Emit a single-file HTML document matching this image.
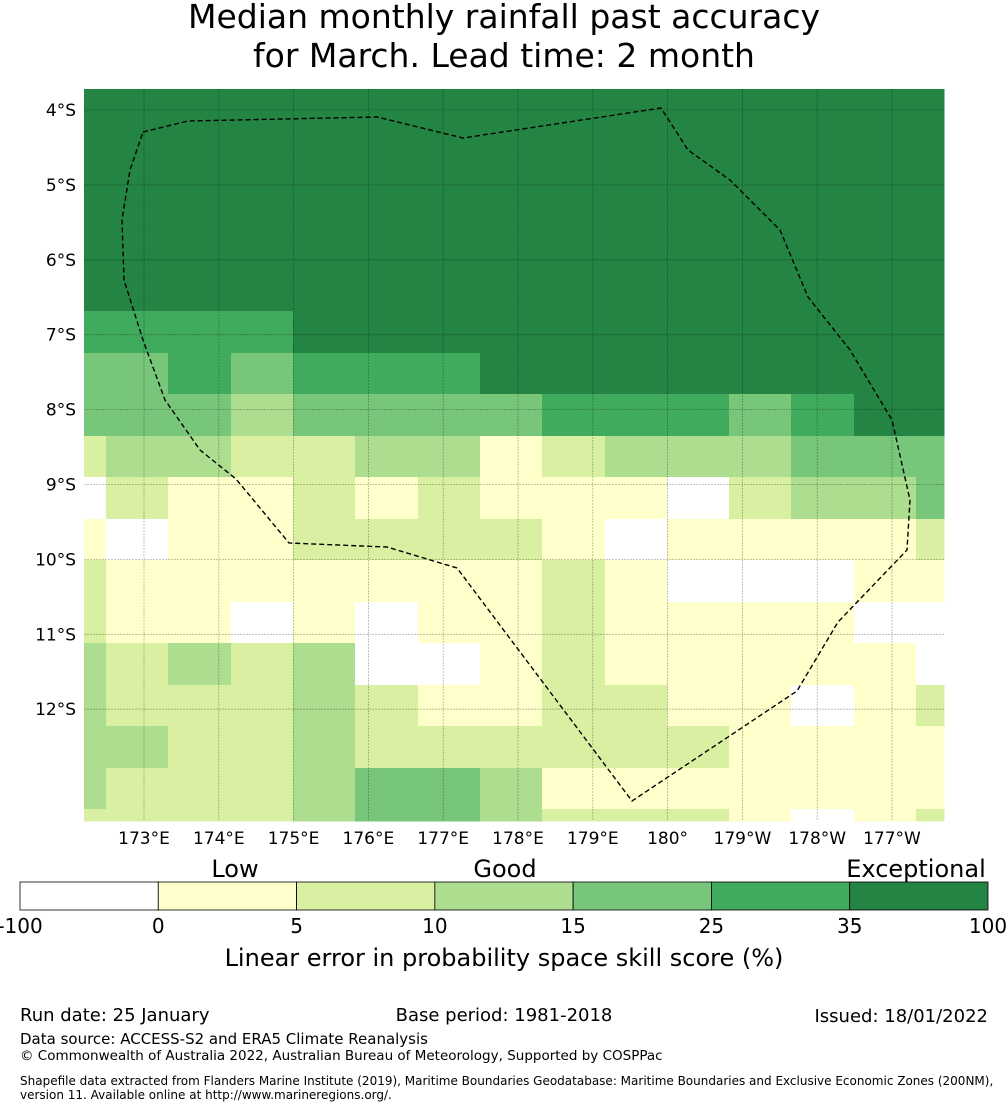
<!DOCTYPE html>
<html><head><meta charset="utf-8"><style>
body{margin:0;background:#fff;width:1008px;height:1110px;overflow:hidden;font-family:"Liberation Sans","DejaVu Sans",sans-serif;}
svg{display:block}
</style></head><body>
<svg id="chart" width="1008" height="1110">
<g>
<text x="504" y="28" font-size="33" text-anchor="middle" font-family="DejaVu Sans, sans-serif">Median monthly rainfall past accuracy</text>
<text x="504" y="67" font-size="33" text-anchor="middle" font-family="DejaVu Sans, sans-serif">for March. Lead time: 2 month</text>
</g>
<g id="cells"></g>
<g id="grid"></g>
<polygon id="eez" fill="none" stroke="#000" stroke-width="1.4" stroke-dasharray="5,3"
points="143,132 188,121 377,117 463,138 661,108 688,150 730,180 780,230 808,297 850,350 892,420 910,500 907,550 838,622 797,691 632,801 457,568 387,547 289,543 236,479 200,450 165,400 143,340 124,280 122,220 130,170 143,132"/>
<g id="ylabels"></g>
<g id="xlabels"></g>
<g id="cbar"></g>
<g font-family="DejaVu Sans, sans-serif" font-size="24">
<text x="235" y="877" text-anchor="middle">Low</text>
<text x="505" y="877" text-anchor="middle">Good</text>
<text x="916" y="877" text-anchor="middle">Exceptional</text>
</g>
<text x="504" y="966" font-size="24" text-anchor="middle" font-family="DejaVu Sans, sans-serif">Linear error in probability space skill score (%)</text>
<g font-family="DejaVu Sans, sans-serif">
<text x="20" y="1021" font-size="18">Run date: 25 January</text>
<text x="504" y="1021" font-size="18" text-anchor="middle">Base period: 1981-2018</text>
<text x="988" y="1022" font-size="18" text-anchor="end">Issued: 18/01/2022</text>
<text x="20" y="1044" font-size="15">Data source: ACCESS-S2 and ERA5 Climate Reanalysis</text>
<text x="20" y="1060" font-size="13.5">© Commonwealth of Australia 2022, Australian Bureau of Meteorology, Supported by COSPPac</text>
<text x="20" y="1085" font-size="12">Shapefile data extracted from Flanders Marine Institute (2019), Maritime Boundaries Geodatabase: Maritime Boundaries and Exclusive Economic Zones (200NM),</text>
<text x="20" y="1099" font-size="12">version 11. Available online at http://www.marineregions.org/.</text>
</g>
</svg>
<script>
const colEdges=[84,106,168,231,293,355,418,480,542,605,667,729,791,854,916,944];
const rowEdges=[89,104,145,187,228,270,311,353,394,436,477,519,560,602,643,685,726,768,809,821];
// skill score per cell (row-major, 15 columns)
const D=50,B=30,G=20,M=12,L=7,Y=3,W=-5;
const skill=[
[D,D,D,D,D,D,D,D,D,D,D,D,D,D,D],
[D,D,D,D,D,D,D,D,D,D,D,D,D,D,D],
[D,D,D,D,D,D,D,D,D,D,D,D,D,D,D],
[D,D,D,D,D,D,D,D,D,D,D,D,D,D,D],
[D,D,D,D,D,D,D,D,D,D,D,D,D,D,D],
[D,D,D,D,D,D,D,D,D,D,D,D,D,D,D],
[B,B,B,B,D,D,D,D,D,D,D,D,D,D,D],
[G,G,B,G,B,B,B,D,D,D,D,D,D,D,D],
[G,G,G,M,G,G,G,G,B,B,B,G,B,D,D],
[L,M,M,L,L,M,M,Y,L,M,M,M,G,G,G],
[W,L,Y,Y,L,Y,L,Y,Y,Y,W,L,M,M,G],
[Y,W,Y,Y,L,L,L,L,Y,W,Y,Y,Y,Y,L],
[L,Y,Y,Y,Y,Y,Y,Y,L,Y,W,W,W,Y,Y],
[L,Y,Y,W,Y,W,Y,Y,L,Y,Y,Y,Y,W,W],
[M,L,M,L,M,W,W,Y,L,Y,Y,Y,Y,Y,W],
[M,L,L,L,M,L,Y,Y,L,L,Y,Y,W,Y,L],
[M,M,L,L,M,L,L,L,L,L,L,Y,Y,Y,Y],
[M,L,L,L,M,G,G,M,Y,Y,Y,Y,Y,Y,Y],
[L,L,L,L,M,G,G,M,L,L,L,Y,W,Y,L]
];
const bounds=[-100,0,5,10,15,25,35,100];
const boundLabels=["-100","0","5","10","15","25","35","100"];
const colors=["#ffffff","#ffffcc","#d9f0a3","#addd8e","#78c679","#41ab5d","#238443"];
const latLabels=["4°S","5°S","6°S","7°S","8°S","9°S","10°S","11°S","12°S"];
const latVals=[4,5,6,7,8,9,10,11,12];
const lonLabels=["173°E","174°E","175°E","176°E","177°E","178°E","179°E","180°","179°W","178°W","177°W"];
const lonVals=[173,174,175,176,177,178,179,180,181,182,183];
const NS="http://www.w3.org/2000/svg";
function xOfLon(l){return 144+(l-173)*74.8;}
function yOfLat(l){return 110+(l-4)*74.9;}
function colorOf(v){for(let i=0;i<7;i++){if(v<bounds[i+1])return colors[i];}return colors[6];}
function mk(t,a,p){const e=document.createElementNS(NS,t);for(const k in a)e.setAttribute(k,a[k]);p.appendChild(e);return e;}
const cells=document.getElementById('cells');
skill.forEach((row,r)=>row.forEach((v,c)=>{
 const e=mk('rect',{x:colEdges[c],y:rowEdges[r],width:colEdges[c+1]-colEdges[c]+0.5,height:rowEdges[r+1]-rowEdges[r]+0.5,fill:colorOf(v)},cells);
 
 
}));
const grid=document.getElementById('grid');
lonVals.forEach(l=>{const e=mk('line',{x1:xOfLon(l),x2:xOfLon(l),y1:89,y2:821,stroke:'#000','stroke-opacity':0.3,'stroke-width':0.8,'stroke-dasharray':'2,1'},grid);
 });
latVals.forEach(l=>{const e=mk('line',{x1:84,x2:944,y1:yOfLat(l),y2:yOfLat(l),stroke:'#000','stroke-opacity':0.3,'stroke-width':0.8,'stroke-dasharray':'2,1'},grid);
 });
const yl=document.getElementById('ylabels');
latLabels.forEach((t,i)=>{const e=mk('text',{x:76,y:yOfLat(latVals[i])+6,'font-size':17,'text-anchor':'end','font-family':'DejaVu Sans, sans-serif'},yl);e.textContent=t;
 });
const xl=document.getElementById('xlabels');
lonLabels.forEach((t,i)=>{const e=mk('text',{x:xOfLon(lonVals[i]),y:844,'font-size':17,'text-anchor':'middle','font-family':'DejaVu Sans, sans-serif'},xl);e.textContent=t;
 });
const cb=document.getElementById('cbar');
const segW=(988-20)/7;
colors.forEach((c,i)=>{const e=mk('rect',{x:20+i*segW,y:882,width:segW,height:28,fill:c,stroke:'#000','stroke-width':0.8},cb);
 });
boundLabels.forEach((t,i)=>{const e=mk('text',{x:20+i*segW,y:933,'font-size':20,'text-anchor':'middle','font-family':'DejaVu Sans, sans-serif'},cb);e.textContent=t;
 });
</script>
</body></html>
